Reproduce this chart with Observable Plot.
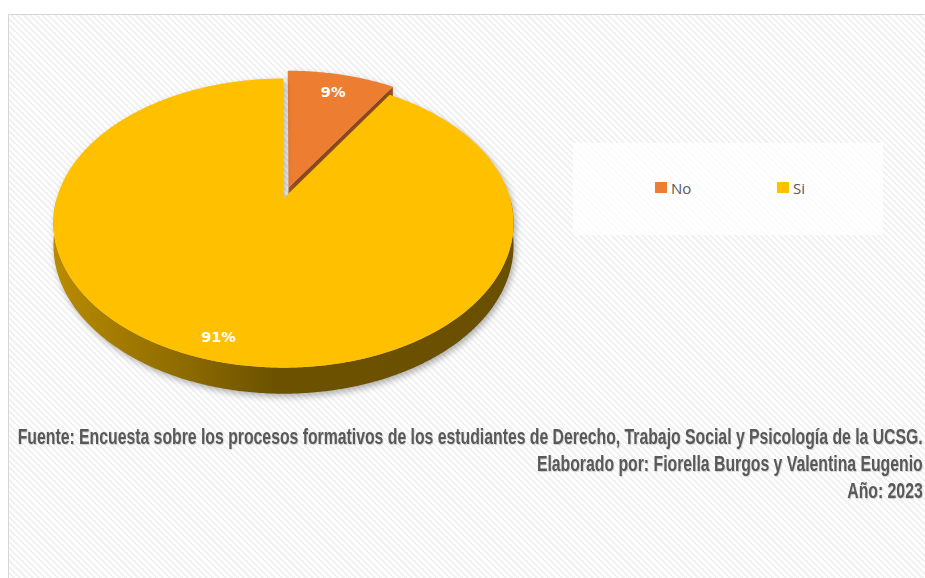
<!DOCTYPE html>
<html><head><meta charset="utf-8">
<script src="https://cdn.jsdelivr.net/npm/d3@7"></script>
<script src="https://cdn.jsdelivr.net/npm/@observablehq/plot@0.6"></script>
<style>
html,body{margin:0;padding:0;background:#fff;}
#page{position:relative;width:925px;height:578px;overflow:hidden;}
#frame{position:absolute;left:8px;top:14px;width:940px;height:600px;border:1.5px solid #d6d6d6;
  background:repeating-linear-gradient(45deg,#ffffff 0px,#ffffff 2.2px,#f2f2f2 2.2px,#f2f2f2 4.4px);}
#chart{position:absolute;left:0;top:0;}
#legendbox{position:absolute;left:573px;top:143px;width:310px;height:92px;background:rgba(255,255,255,0.78);}
#legend{position:absolute;left:655px;top:171px;}
#legend span{margin-right:0 !important;width:122px;}
#legend svg{margin-right:4px !important;}
#caption{position:absolute;right:2px;top:423px;text-align:right;white-space:nowrap;transform-origin:100% 0;
  font-family:"Liberation Sans Narrow","Arial Narrow","Liberation Sans",sans-serif;font-weight:bold;font-size:22px;
  line-height:27px;color:#595959;text-shadow:1px 1px 1px rgba(0,0,0,0.18);}
#caption span{display:inline-block;}
</style></head>
<body>
<div id="page">
  <div id="frame"></div>
  <div id="chart"></div>
  <div id="legendbox"></div>
  <div id="legend"></div>
  <div id="caption"></div>
</div>
<script>
const categories = ["No", "Si"];
const values = [9, 91];
const colors = ["#ED7D31", "#FFC000"];
const labels = ["9%", "91%"];
const captionLines = [
  "Fuente: Encuesta sobre los procesos formativos de los estudiantes de Derecho, Trabajo Social y Psicología de la UCSG.",
  "Elaborado por: Fiorella Burgos y Valentina Eugenio",
  "Año: 2023"
];

// 3D pie geometry (perspective tilt, thickness, explosion)
const K = 0.17, H = 0.154;
const EXPLODE = [0.08, 0];
const LABEL_R = [0.82, 0.88];
const total = d3.sum(values);
let acc = 0;
const slices = categories.map((c, i) => {
  const a0 = acc / total * 2 * Math.PI; acc += values[i];
  const a1 = acc / total * 2 * Math.PI;
  return {c, i, a0, a1, mid: (a0 + a1) / 2, color: colors[i]};
});
function proj(u, v, d) { const s = 1 / (1 - K * v); return {X: u * s, Y: (v + d * H) * s}; }
function pt(sl, r, t, d) {
  const e = EXPLODE[sl.i];
  const u = r * Math.sin(t) + e * Math.sin(sl.mid);
  const v = -r * Math.cos(t) - e * Math.cos(sl.mid);
  return proj(u, v, d);
}
function arc(sl, t0, t1, d) {
  const n = Math.max(2, Math.ceil((t1 - t0) / 0.01));
  return d3.range(n + 1).map(j => pt(sl, 1, t0 + (t1 - t0) * j / n, d));
}
const marks = [];
const roles = [];
const order = slices.slice().sort((a, b) => (-Math.cos(a.mid)) - (-Math.cos(b.mid)));
for (const sl of order) {
  const side = d3.color(sl.color).darker(0.8).formatHex();
  if (Math.sin(sl.a1) > 1e-6) {
    const poly = [pt(sl, 0, sl.a1, 0), pt(sl, 1, sl.a1, 0), pt(sl, 1, sl.a1, 1), pt(sl, 0, sl.a1, 1)];
    marks.push(Plot.line(poly, {x: "X", y: "Y", fill: side, stroke: "none"})); roles.push({kind: "cut", sl});
  }
  if (Math.sin(sl.a0) < -1e-6) {
    const poly = [pt(sl, 0, sl.a0, 0), pt(sl, 1, sl.a0, 0), pt(sl, 1, sl.a0, 1), pt(sl, 0, sl.a0, 1)];
    marks.push(Plot.line(poly, {x: "X", y: "Y", fill: side, stroke: "none"})); roles.push({kind: "cut", sl});
  }
  const w0 = Math.max(sl.a0, Math.PI / 2), w1 = Math.min(sl.a1, 3 * Math.PI / 2);
  if (w1 > w0) {
    const poly = arc(sl, w0, w1, 0).concat(arc(sl, w0, w1, 1).reverse());
    marks.push(Plot.line(poly, {x: "X", y: "Y", fill: side, stroke: "none"})); roles.push({kind: "wall", sl});
  }
  const top = [pt(sl, 0, sl.a0, 0)].concat(arc(sl, sl.a0, sl.a1, 0));
  marks.push(Plot.line(top, {x: "X", y: "Y", fill: sl.color, stroke: "none"})); roles.push({kind: "top", sl});
}
const labelData = slices.map(sl => ({...pt(sl, LABEL_R[sl.i], sl.mid, 0), t: labels[sl.i]}));
marks.push(Plot.text(labelData, {x: "X", y: "Y", text: "t", fill: "white", fontWeight: "bold", fontSize: 14.5, fontFamily: "DejaVu Sans, Verdana, sans-serif"}));
roles.push({kind: "label"});

const svg = Plot.plot({
  width: 925, height: 420, margin: 0,
  x: {domain: [-1, 1], range: [56.3, 509.7], axis: null},
  y: {domain: [-1, 1], range: [57.6, 338.4], axis: null},
  style: {background: "transparent", overflow: "visible"},
  marks
});
const groups = Array.from(svg.children).filter(n => n.tagName === "g");
const sel = d3.select(svg);
const defs = sel.insert("defs", ":first-child");
slices.forEach(sl => {
  const g = defs.append("linearGradient").attr("id", "wall" + sl.i).attr("x1", 0).attr("x2", 1).attr("y1", 0).attr("y2", 0);
  [[0, 0.9], [0.3, 1.7], [0.48, 2.4], [1, 2.5]].forEach(([o, k]) =>
    g.append("stop").attr("offset", o).attr("stop-color", d3.color(sl.color).darker(k).formatHex()));
});
slices.forEach(sl => {
  const parts = [];
  roles.forEach((r, j) => {
    if (r.sl !== sl || !groups[j]) return;
    if (r.kind === "wall") { groups[j].setAttribute("fill", `url(#wall${sl.i})`); d3.select(groups[j]).selectAll("path").attr("fill", `url(#wall${sl.i})`); }
    if (r.kind === "wall" || r.kind === "top") parts.push(groups[j]);
  });
  if (!parts.length) return;
  const wrap = document.createElementNS("http://www.w3.org/2000/svg", "g");
  wrap.setAttribute("style", "filter: drop-shadow(2px 3px 3px rgba(0,0,0,0.3))");
  parts[0].parentNode.insertBefore(wrap, parts[0]);
  parts.forEach(p => wrap.appendChild(p));
});
document.getElementById("chart").appendChild(svg);

const legend = Plot.legend({
  color: {type: "ordinal", domain: categories, range: colors},
  swatchWidth: 12, swatchHeight: 11,
  style: {fontSize: "15px", fontFamily: "'Open Sans', 'Noto Sans', sans-serif", color: "#595959", background: "transparent"}
});
document.getElementById("legend").appendChild(legend);

const cap = document.getElementById("caption");
const spans = captionLines.map(t => {
  const d = document.createElement("div"); const s = document.createElement("span");
  s.textContent = t; d.appendChild(s); cap.appendChild(d); return s;
});
const w1 = spans[0].getBoundingClientRect().width;
const sc = Math.min(1, 905 / w1);
cap.style.transform = `scaleX(${sc})`;
</script>
</body></html>
